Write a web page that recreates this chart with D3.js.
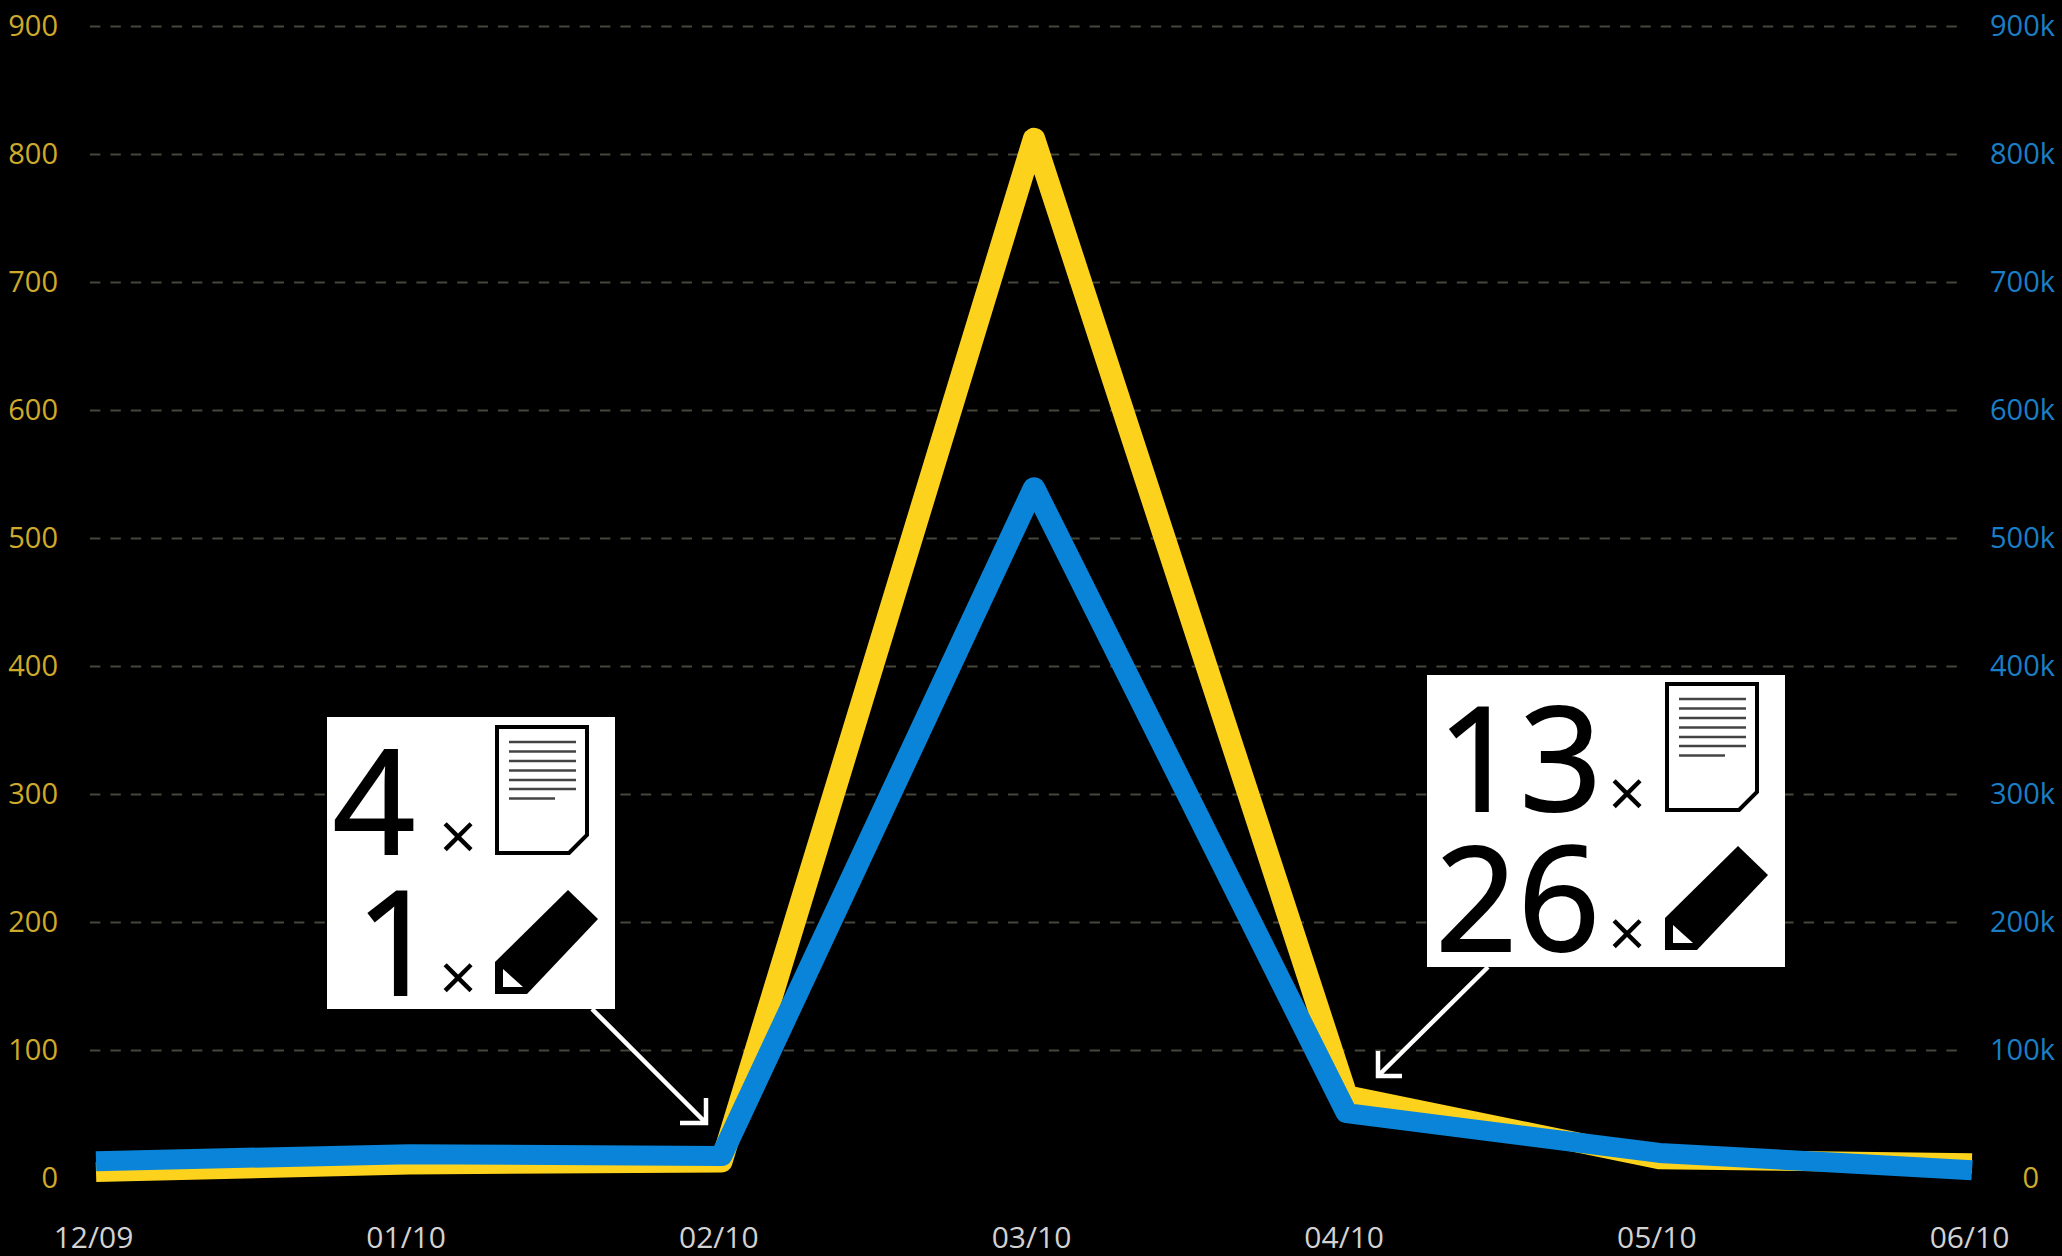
<!DOCTYPE html>
<html>
<head>
<meta charset="utf-8">
<script src="https://cdn.jsdelivr.net/npm/d3@7"></script>
<style>
  html, body { margin: 0; padding: 0; background: #000; }
  svg { display: block; }
  text { font-family: "Open Sans", "Noto Sans", sans-serif; }
  .tick line, .domain { display: none; }
</style>
</head>
<body>
<div id="chart"></div>
<script>
// monthly values
var months = ["12/09", "01/10", "02/10", "03/10", "04/10", "05/10", "06/10"];
var yellowValues = [5, 11, 12.5, 813, 65, 15, 12];
var blueValues = [13500, 19000, 17500, 540000, 51000, 20000, 6500];
var leftTicks = [0, 100, 200, 300, 400, 500, 600, 700, 800, 900];
var rightTicks = [0, 100000, 200000, 300000, 400000, 500000, 600000, 700000, 800000, 900000];
var gridTicks = [100, 200, 300, 400, 500, 600, 700, 800, 900];

var width = 2062, height = 1256;
var stretch = 1.1; // the original is stretched sideways, so the lines are wider on the slopes

var svg = d3.select("#chart").append("svg")
    .attr("width", width)
    .attr("height", height)
    .style("background", "#000");

var x = d3.scalePoint().domain(months).range([96, 1972]);
var yLeft = d3.scaleLinear().domain([0, 900]).range([1178.5, 26.5]);
var yRight = d3.scaleLinear().domain([0, 900000]).range([1178.5, 26.5]);

// dashed grid
svg.append("g").selectAll("line")
    .data(gridTicks).enter().append("line")
    .attr("x1", 90)
    .attr("x2", 1962)
    .attr("y1", function (d) { return yLeft(d); })
    .attr("y2", function (d) { return yLeft(d); })
    .attr("stroke", "#47463a")
    .attr("stroke-width", 2)
    .attr("stroke-dasharray", "10.4 10");

// axes, only the labels are visible
var leftAxis = svg.append("g")
    .attr("transform", "translate(58,0)")
    .call(d3.axisLeft(yLeft).tickValues(leftTicks).tickSize(0).tickPadding(0).tickFormat(d3.format("d")));
leftAxis.selectAll("text")
    .attr("fill", "#cdaa2a")
    .style("font-size", "29px");

var rightAxis = svg.append("g")
    .attr("transform", "translate(2055,0)")
    .call(d3.axisRight(yRight).tickValues(rightTicks).tickSize(0).tickPadding(0)
        .tickFormat(function (d) { return d === 0 ? "0" : (d / 1000) + "k"; }));
rightAxis.selectAll("text")
    .attr("text-anchor", "end")
    .attr("fill", function (d) { return d === 0 ? "#cdaa2a" : "#1a7ec6"; })
    .attr("dx", function (d) { return d === 0 ? -16 : 0; })
    .style("font-size", "29px");

var bottomAxis = svg.append("g")
    .attr("transform", "translate(-3,1237)")
    .call(d3.axisBottom(x).tickSize(0).tickPadding(0));
bottomAxis.selectAll("text")
    .attr("dy", "0.35em")
    .attr("y", 0)
    .attr("fill", "#d2d2d2")
    .style("font-size", "30px");

// the two lines, yellow goes under blue
var yellowLine = d3.line()
    .x(function (d, i) { return x(months[i]) / stretch; })
    .y(function (d) { return yLeft(d); });
var blueLine = d3.line()
    .x(function (d, i) { return x(months[i]) / stretch; })
    .y(function (d) { return yRight(d); });

var lines = svg.append("g").attr("transform", "scale(" + stretch + ",1)");

lines.append("path")
    .datum(yellowValues)
    .attr("d", yellowLine)
    .attr("fill", "none")
    .attr("stroke", "#fdd21c")
    .attr("stroke-width", 20)
    .attr("stroke-linejoin", "round");

lines.append("path")
    .datum(blueValues)
    .attr("d", blueLine)
    .attr("fill", "none")
    .attr("stroke", "#0a84d8")
    .attr("stroke-width", 20)
    .attr("stroke-linejoin", "round");

// page icon, origin at the top left of the sheet
function drawPage(g) {
  g.append("path")
      .attr("d", "M0,0 H90 V108 L72,126 H0 Z")
      .attr("fill", "#fff")
      .attr("stroke", "#000")
      .attr("stroke-width", 4);
  var rows = [15, 24.5, 34, 43.5, 53, 62, 71.5];
  g.selectAll("line")
      .data(rows).enter().append("line")
      .attr("x1", 12)
      .attr("x2", function (d, i) { return i === 6 ? 58 : 79; })
      .attr("y1", function (d) { return d; })
      .attr("y2", function (d) { return d; })
      .attr("stroke", "#444")
      .attr("stroke-width", 2.4);
}

// pencil icon, origin at the bottom left corner
function drawPencil(g) {
  g.append("path")
      .attr("d", "M0,-32 L73,-104 L103,-75 L32,0 H0 Z")
      .attr("fill", "#000");
  g.append("path")
      .attr("d", "M8,-25 L28,-7 H8 Z")
      .attr("fill", "#fff");
}

// one white callout box with its counts, icons and arrow
function drawCallout(c) {
  var g = svg.append("g");
  g.append("rect")
      .attr("x", c.box[0])
      .attr("y", c.box[1])
      .attr("width", c.box[2])
      .attr("height", c.box[3])
      .attr("fill", "#fff");

  g.append("text").text(c.pages)
      .attr("x", c.numX).attr("y", c.row1)
      .attr("text-anchor", "end")
      .attr("stroke", "#000").attr("stroke-width", 2)
      .style("font-size", "144px").attr("fill", "#000");
  g.append("text").text(c.edits)
      .attr("x", c.numX2).attr("y", c.row2)
      .attr("text-anchor", "end")
      .attr("stroke", "#000").attr("stroke-width", 2)
      .style("font-size", "144px").attr("fill", "#000");

  g.append("text").text("×")
      .attr("x", c.timesX).attr("y", c.row1 + 6)
      .attr("text-anchor", "middle")
      .style("font-size", "66px").attr("fill", "#000");
  g.append("text").text("×")
      .attr("x", c.timesX).attr("y", c.row2 + 6)
      .attr("text-anchor", "middle")
      .style("font-size", "66px").attr("fill", "#000");

  drawPage(g.append("g").attr("transform", "translate(" + (c.iconX + 1) + "," + (c.row1 - 127) + ")"));
  drawPencil(g.append("g").attr("transform", "translate(" + (c.iconX - 1) + "," + (c.row2 - 1) + ")"));

  g.append("path")
      .attr("d", c.arrow)
      .attr("fill", "none")
      .attr("stroke", "#fff")
      .attr("stroke-width", 4.5);
}

drawCallout({
  box: [327, 717, 288, 292],
  pages: "4", edits: "1",
  numX: 415, numX2: 438, row1: 854, row2: 995,
  timesX: 458, iconX: 496,
  arrow: "M592,1009 L705,1122 M706,1098 V1123 H680"
});

drawCallout({
  box: [1427, 675, 358, 292],
  pages: "13", edits: "26",
  numX: 1602, numX2: 1600, row1: 811, row2: 951,
  timesX: 1627, iconX: 1666,
  arrow: "M1488,967 L1379,1075 M1378,1051 V1076 H1402"
});
</script>
</body>
</html>
